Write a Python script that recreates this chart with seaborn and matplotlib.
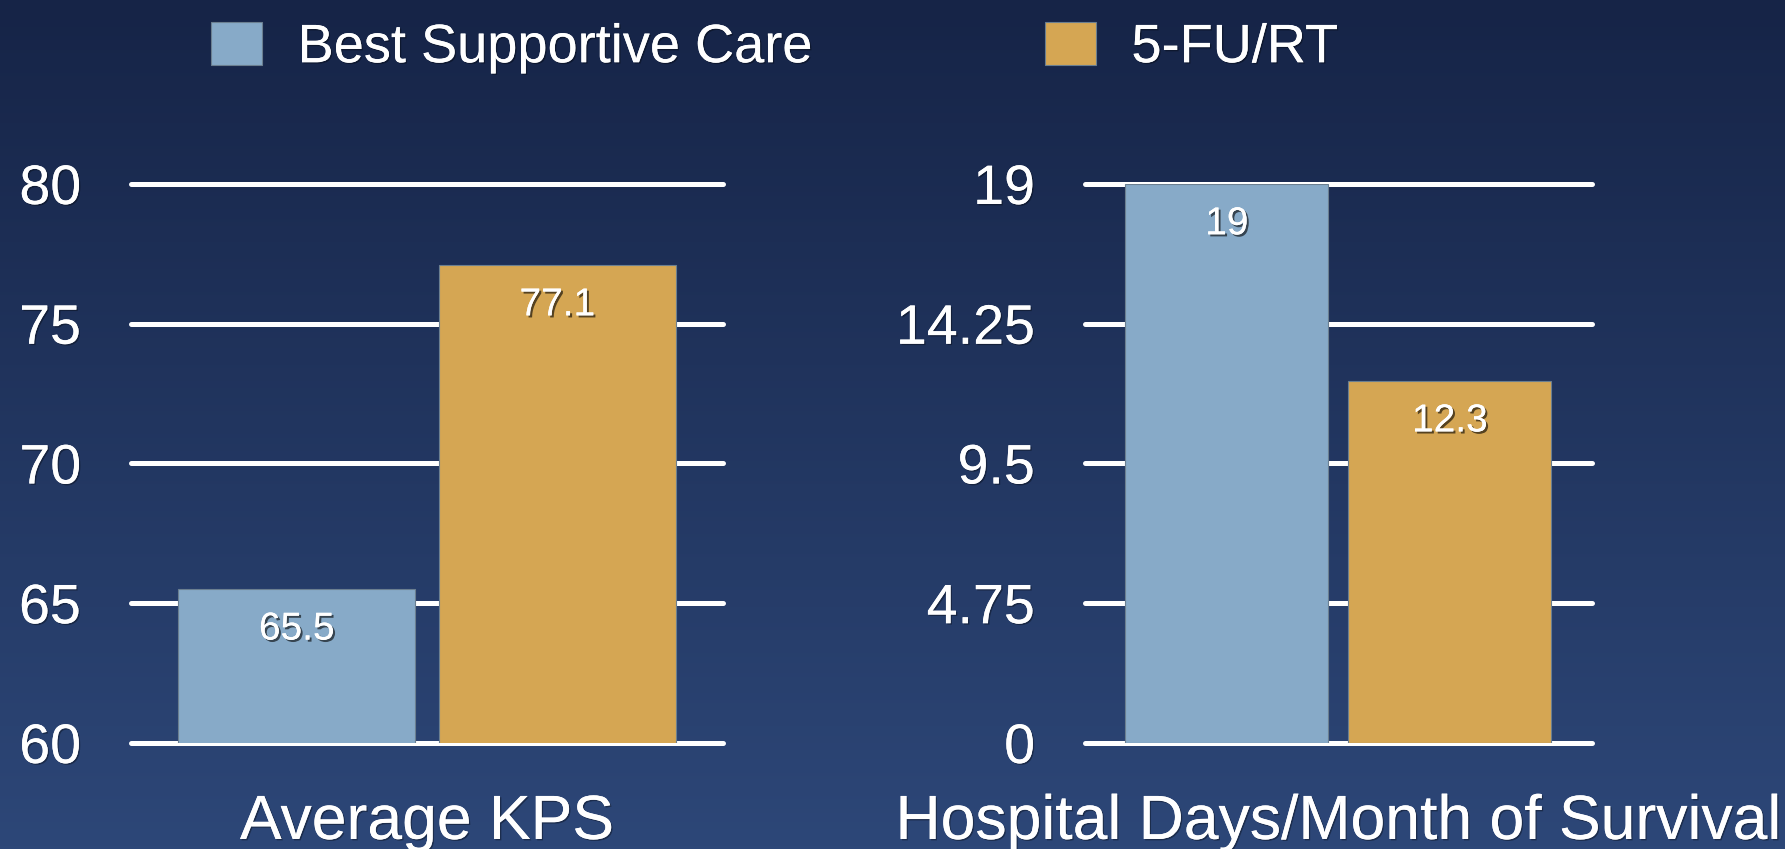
import numpy as np
import pandas as pd
import matplotlib
matplotlib.use("Agg")
import matplotlib.pyplot as plt
import matplotlib.patheffects as pe
import seaborn as sns

# data
groups = ["Best Supportive Care", "5-FU/RT"]
kps_values = [65.5, 77.1]
hosp_values = [19, 12.3]
kps_ticks = [60, 65, 70, 75, 80]
hosp_ticks = [0, 4.75, 9.5, 14.25, 19]
hosp_ticklabels = ["0", "4.75", "9.5", "14.25", "19"]

colors = ["#87aac8", "#d5a653"]
bg_top = np.array([0x16, 0x24, 0x47]) / 255
bg_bot = np.array([0x2d, 0x47, 0x78]) / 255

sns.set_theme(style="white")
plt.rcParams['font.family'] = ['Liberation Sans', 'DejaVu Sans']
plt.rcParams['text.color'] = 'white'

fig = plt.figure(figsize=(17.85, 8.49), dpi=100)

# gradient background
bg = fig.add_axes([0, 0, 1, 1], zorder=-10)
grad = np.linspace(0, 1, 256)[:, None, None]
img = bg_top * (1 - grad) + bg_bot * grad
bg.imshow(np.repeat(img, 2, axis=1), aspect='auto', extent=[0, 1, 0, 1])
bg.axis('off')

df_kps = pd.DataFrame({"cat": ["Average KPS"] * 2, "group": groups, "value": kps_values})
df_hosp = pd.DataFrame({"cat": ["Hospital Days/Month of Survival"] * 2, "group": groups, "value": hosp_values})

ax1 = fig.add_axes([0.0734, 0.1249, 0.3317, 0.6584])
ax2 = fig.add_axes([0.6078, 0.1249, 0.2840, 0.6584])

shadow = [pe.withSimplePatchShadow(offset=(1.5, -1.5), shadow_rgbFace='black', alpha=0.6), pe.Normal()]
soft = [pe.withSimplePatchShadow(offset=(1, -1), shadow_rgbFace='black', alpha=0.35), pe.Normal()]

for ax, df, ylim, ticks, tlabels in [
    (ax1, df_kps, (60, 80), kps_ticks, [str(t) for t in kps_ticks]),
    (ax2, df_hosp, (0, 19), hosp_ticks, hosp_ticklabels),
]:
    sns.barplot(data=df, x="cat", y="value", hue="group", palette=colors,
                width=0.88, gap=0.09, ax=ax, legend=(ax is ax1), saturation=1,
                edgecolor="#6b7f90", linewidth=0.8, zorder=3)
    ax.set_facecolor("none")
    ax.set_ylim(*ylim)
    ax.set_xlim(-0.5, 0.5)
    ax.set_yticks(ticks)
    ax.set_yticklabels(tlabels)
    ax.grid(axis='y', color='white', linewidth=3.6, zorder=1)
    ax.set_axisbelow(True)
    for gl in ax.get_ygridlines():
        gl.set_clip_on(False)
    for s in ax.spines.values():
        s.set_visible(False)
    ax.tick_params(axis='both', length=0, colors='white')
    ax.tick_params(axis='y', labelsize=40, pad=36)
    ax.tick_params(axis='x', labelsize=45, pad=36)
    for t in ax.get_xticklabels() + ax.get_yticklabels():
        t.set_path_effects(soft)
    ax.set_xlabel("")
    ax.set_ylabel("")
    for cont in ax.containers:
        vals = [f"{v:g}" for v in cont.datavalues]
        ax.bar_label(cont, labels=vals, padding=-42, fontsize=28, color='white',
                     path_effects=shadow, zorder=5)

handles, labels = ax1.get_legend_handles_labels()
ax1.get_legend().remove()
leg = fig.legend(handles, labels, loc='center left', bbox_to_anchor=(0.103, 0.944),
                 ncol=2, frameon=False, fontsize=39, handlelength=0.95, handleheight=0.85,
                 handletextpad=0.65, columnspacing=4.3, borderpad=0, labelcolor='white')
for t in leg.get_texts():
    t.set_path_effects(soft)

fig.savefig("out.png", dpi=100)
